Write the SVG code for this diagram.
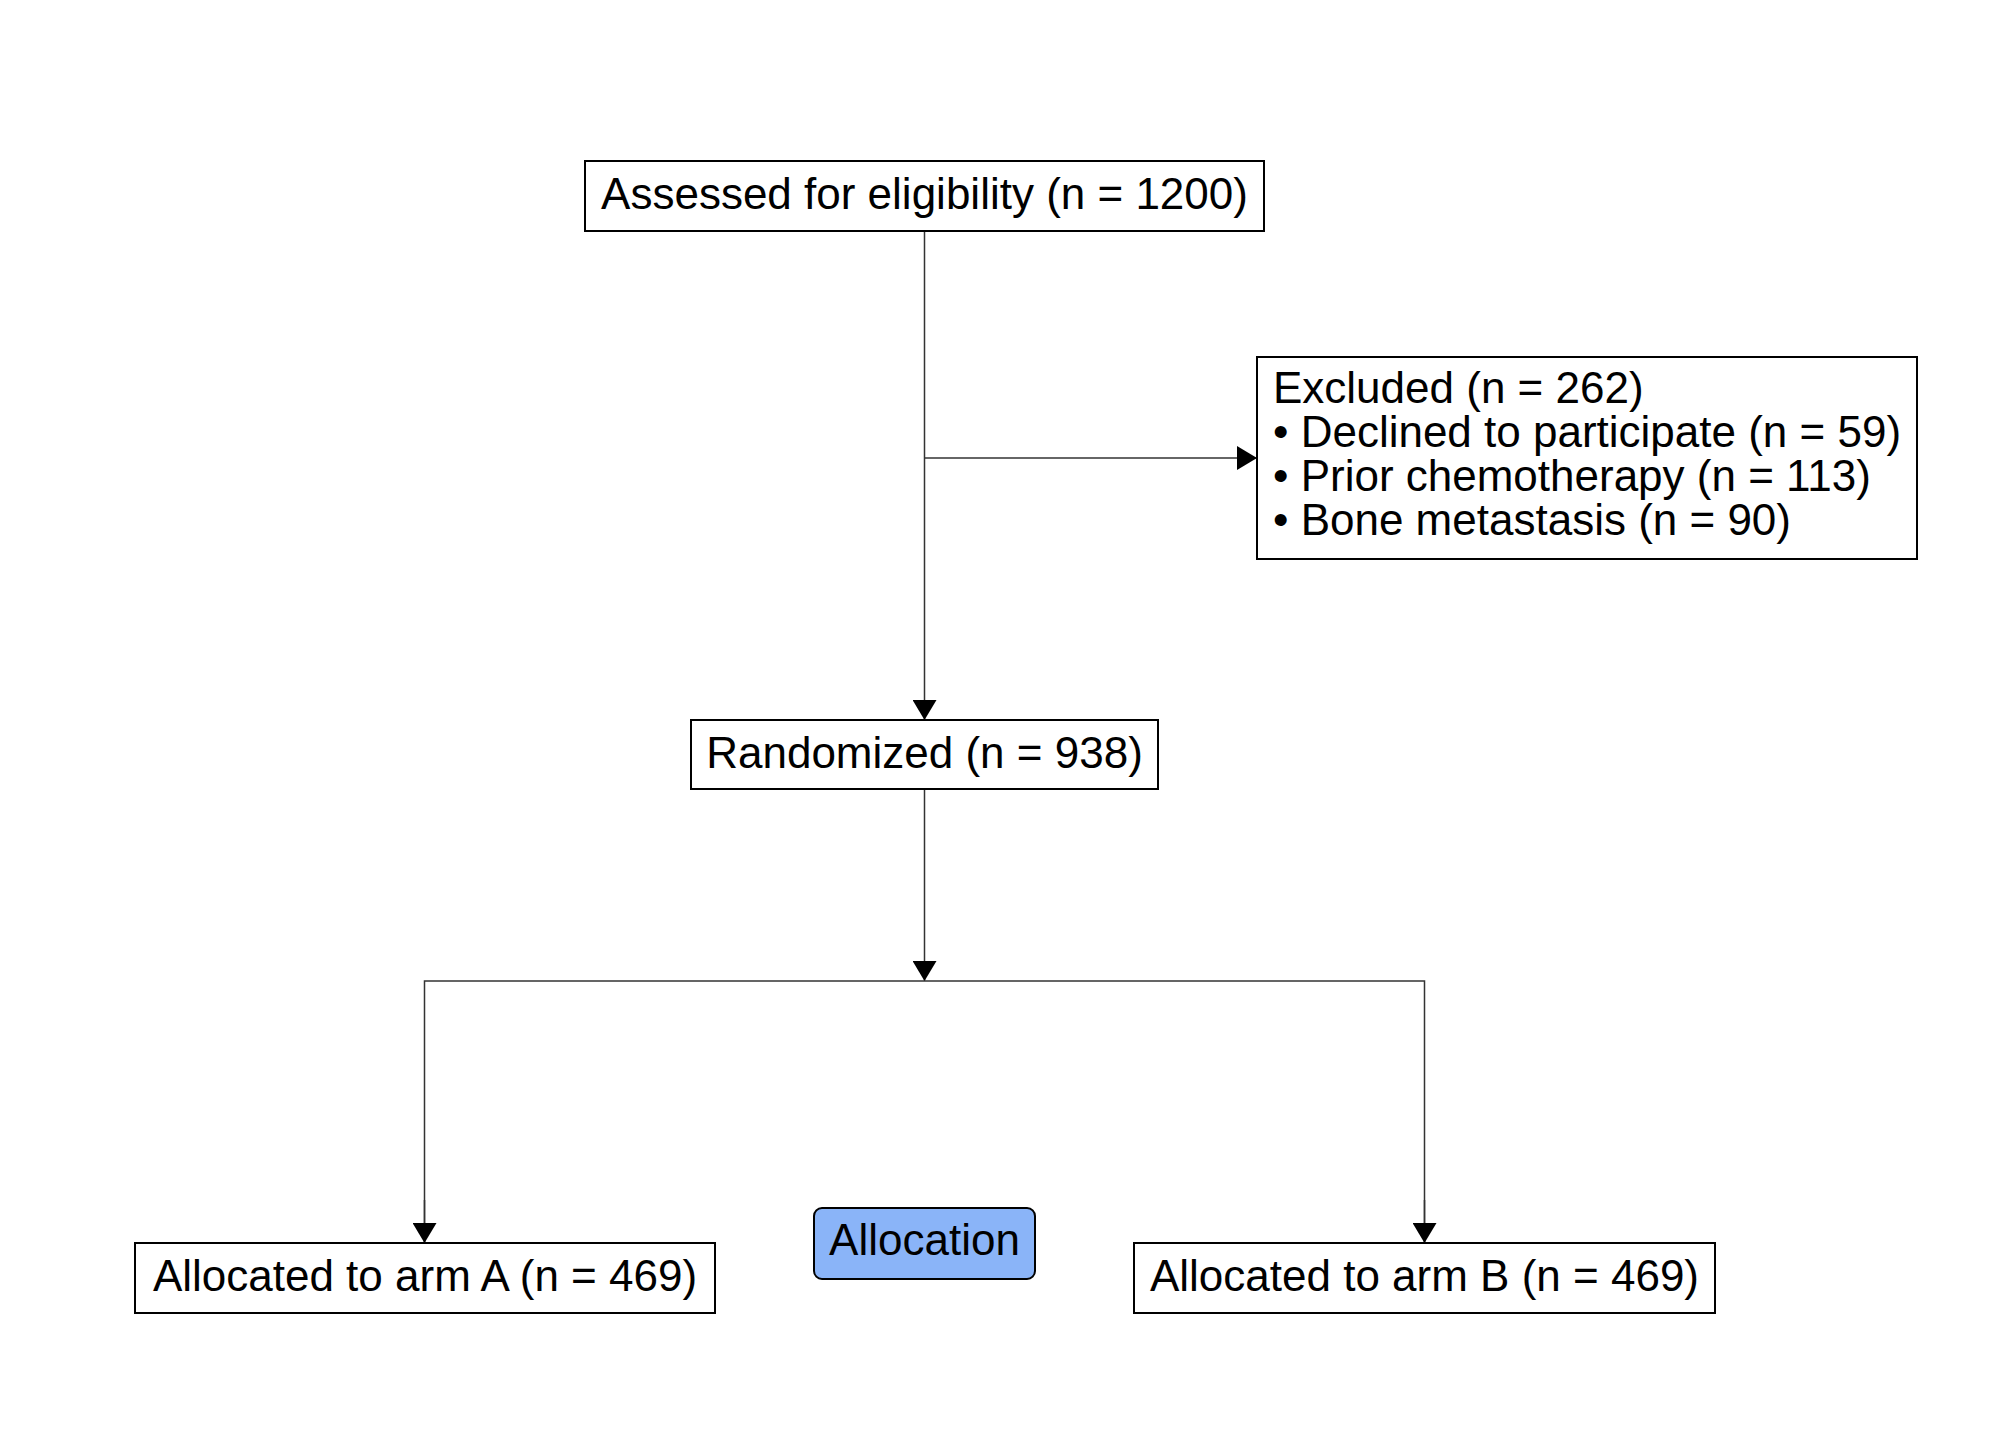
<svg xmlns="http://www.w3.org/2000/svg" width="2016" height="1440" viewBox="0 0 2016 1440">
<style>
.box{fill:#fff;stroke:#000;stroke-width:2}
.alloc{fill:#8AB4F8;stroke:#000;stroke-width:2}
.t{font-family:"Liberation Sans",Arial,sans-serif;font-size:44px;fill:#000}
.c{text-anchor:middle}
.ln{fill:none;stroke:#333;stroke-width:1.5}
</style>
<defs>
<marker id="arr" markerUnits="userSpaceOnUse" markerWidth="20" markerHeight="24" refX="20" refY="12" orient="auto" viewBox="0 0 20 24">
<path d="M0,0 L20,12 L0,24 z" fill="#000"/>
</marker>
</defs>
<rect width="2016" height="1440" fill="#fff"/>
<g id="connectors">
<line class="ln" x1="924.5" y1="231" x2="924.5" y2="720" marker-end="url(#arr)"/>
<line class="ln" x1="924.5" y1="458" x2="1257" y2="458" marker-end="url(#arr)"/>
<line class="ln" x1="924.5" y1="789" x2="924.5" y2="981" marker-end="url(#arr)"/>
<polyline class="ln" points="424.5,1243 424.5,981 1424.5,981 1424.5,1243"/>
<line class="ln" x1="424.5" y1="1200" x2="424.5" y2="1243" marker-end="url(#arr)"/>
<line class="ln" x1="1424.5" y1="1200" x2="1424.5" y2="1243" marker-end="url(#arr)"/>
</g>
<g id="assessed">
<rect class="box" x="585" y="161" width="679" height="70"/>
<text class="t c" x="924.5" y="209">Assessed for eligibility (n = 1200)</text>
</g>
<g id="excluded">
<rect class="box" x="1257" y="357" width="660" height="202"/>
<text class="t" x="1273" y="403">Excluded (n = 262)</text>
<text class="t" x="1273" y="447">• Declined to participate (n = 59)</text>
<text class="t" x="1273" y="491">• Prior chemotherapy (n = 113)</text>
<text class="t" x="1273" y="535">• Bone metastasis (n = 90)</text>
</g>
<g id="randomized">
<rect class="box" x="691" y="720" width="467" height="69"/>
<text class="t c" x="924.5" y="768">Randomized (n = 938)</text>
</g>
<g id="armA">
<rect class="box" x="135" y="1243" width="580" height="70"/>
<text class="t c" x="425" y="1291">Allocated to arm A (n = 469)</text>
</g>
<g id="armB">
<rect class="box" x="1134" y="1243" width="581" height="70"/>
<text class="t c" x="1424.5" y="1291">Allocated to arm B (n = 469)</text>
</g>
<g id="allocation">
<rect class="alloc" x="814" y="1208" width="221" height="71" rx="8" ry="8"/>
<text class="t c" x="924.5" y="1255">Allocation</text>
</g>
</svg>
